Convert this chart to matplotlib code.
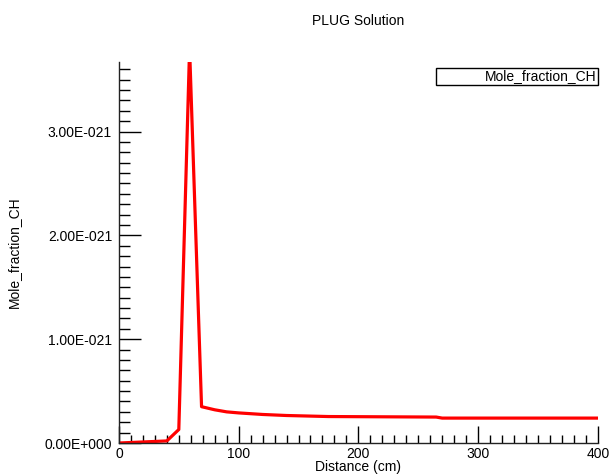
import matplotlib
matplotlib.use("Agg")
import matplotlib.pyplot as plt
from matplotlib.ticker import MultipleLocator, FuncFormatter
from matplotlib.lines import Line2D

plt.rcParams['font.family'] = ['Liberation Sans', 'DejaVu Sans']

distance = [0, 40, 50, 59, 69, 80, 90, 100, 120, 140, 175, 265, 270, 400]
mole_fraction = [0.0, 0.02e-21, 0.13e-21, 3.80e-21, 0.35e-21, 0.32e-21, 0.30e-21,
                 0.29e-21, 0.275e-21, 0.265e-21, 0.255e-21, 0.25e-21, 0.24e-21, 0.24e-21]
series_name = "Mole_fraction_CH"

fig = plt.figure(figsize=(6.10, 4.76), dpi=100)
ax = fig.add_axes([0.195, 0.0693, 0.785, 0.8004])
ax.plot(distance, mole_fraction, color='#ff0000', lw=2.3, clip_on=True)

ax.set_xlim(0, 400)
ax.set_ylim(0, 3.67e-21)
ax.xaxis.set_major_locator(MultipleLocator(100))
ax.xaxis.set_minor_locator(MultipleLocator(10))
ax.yaxis.set_major_locator(MultipleLocator(1e-21))
ax.yaxis.set_minor_locator(MultipleLocator(1e-22))

def fmt(v, pos):
    if abs(v) < 1e-30:
        return "0.00E+000"
    s = "%.2E" % v
    mant, ex = s.split("E")
    sign = ex[0]
    num = int(ex[1:])
    return "%sE%s%03d" % (mant, sign, num)

ax.yaxis.set_major_formatter(FuncFormatter(fmt))
ax.yaxis.get_offset_text().set_visible(False)

for sp in ['top', 'right']:
    ax.spines[sp].set_visible(False)
for sp in ['left', 'bottom']:
    ax.spines[sp].set_linewidth(1.0)
    ax.spines[sp].set_color('#222222')

ax.tick_params(axis='y', which='major', direction='in', length=16, width=1, labelsize=10, pad=5)
ax.tick_params(axis='y', which='minor', direction='in', length=8, width=1)
ax.tick_params(axis='x', which='major', direction='in', length=12, width=1, labelsize=10, pad=3)
ax.tick_params(axis='x', which='minor', direction='in', length=6, width=1)

ax.set_xlabel("Distance (cm)", fontsize=10, labelpad=-0.5)
ax.set_ylabel("Mole_fraction_CH", fontsize=10, labelpad=17)
ax.set_title("PLUG Solution", fontsize=10, pad=27)

handle = Line2D([], [], color='none')
leg = ax.legend([handle], [series_name], loc='upper right', bbox_to_anchor=(1.0, 0.985),
                fancybox=False, framealpha=1, edgecolor='black', fontsize=10,
                handlelength=3.4, handletextpad=0, borderpad=0.1, borderaxespad=0)
leg.get_frame().set_linewidth(1.0)

fig.savefig("out.png", dpi=100)
